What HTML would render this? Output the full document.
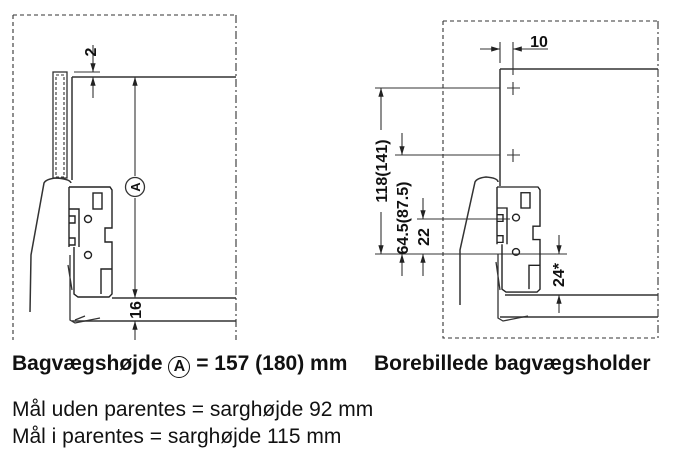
<!DOCTYPE html>
<html><head><meta charset="utf-8"><style>
body{margin:0;background:#fff;width:677px;height:465px;overflow:hidden;font-family:"Liberation Sans",sans-serif}
svg{position:absolute;left:0;top:0}
.t{position:absolute;color:#111;white-space:nowrap;line-height:24px}
</style></head><body>
<svg width="677" height="465" viewBox="0 0 677 465">
<defs>
<marker id="a" viewBox="0 0 10 10" refX="10" refY="5" markerWidth="8" markerHeight="8" orient="auto-start-reverse"><path d="M0,2 L10,5 L0,8 z" fill="#222"/></marker>
<g id="br" fill="none" stroke="#222" stroke-width="1.4">
<path d="M0,0 L41,0 L43,3 L43,41 L36,41 L36,55 L43,55 L43,107 L40,110 L9,110 L5,107 L5,60 M0,0 L0,60"/>
<rect x="24" y="6" width="9" height="16"/>
<circle cx="19" cy="32" r="3.5"/><circle cx="19" cy="68" r="3.5"/>
<path d="M0,22 L10,22 L10,60 M0,29 L6,29 L6,36 L0,36 M0,51 L6,51 L6,58 L0,58"/>
<path d="M32,107 L32,82 L43,82"/>
</g>
</defs>
<g stroke="#333" stroke-width="1.1" fill="none">
<path d="M13,15 L236,15 M13,15 L13,340" stroke-dasharray="4,3"/>
<path d="M236,15 L236,340" stroke-dasharray="8,3,2,3"/>
<rect x="53" y="72" width="14" height="106" stroke-width="1.3"/>
<rect x="56" y="75" width="8" height="102" stroke-dasharray="3,2"/>
<path d="M72,77 L236,77 M72,77 L72,180" stroke-width="1.5"/>
<path d="M74,72 L100,72"/>
<path d="M93,45 L93,72" marker-end="url(#a)"/>
<path d="M93,98 L93,77" marker-end="url(#a)"/>
<path d="M135,176 L135,77" marker-end="url(#a)"/>
<path d="M135,198 L135,298" marker-end="url(#a)"/>
<circle cx="135" cy="187" r="9.5" stroke-width="1.3"/>
<path d="M112,298 L236,298 M72,321 L236,321" stroke-width="1.5"/>
<path d="M135,340 L135,321" marker-end="url(#a)"/>
<path d="M30,312 L31,255 L44,183 Q46,179 56,178 Q70,179 71,183" stroke-width="1.5"/>
<path d="M70,255 L70,320 L75,323 L100,318 M68,265 L72,290 M75,320 L85,316" stroke-width="1.3"/>
<path d="M443,21 L658,21 M443,21 L443,338 L658,338" stroke-dasharray="4,3"/>
<path d="M658,21 L658,338" stroke-dasharray="8,3,2,3"/>
<path d="M500,69 L658,69 M500,69 L500,186" stroke-width="1.5"/>
<path d="M500,42 L500,63 M513,42 L513,75"/>
<path d="M480,49 L500,49" marker-end="url(#a)"/>
<path d="M548,49 L513,49" marker-end="url(#a)"/>
<path d="M507,88 L520,88 M513,82 L513,95 M507,155 L520,155 M513,149 L513,162"/>
<path d="M375,88 L500,88 M395,155 L500,155 M417,219 L510,219 M375,254 L567,254"/>
<path d="M381,130 L381,88" marker-end="url(#a)"/>
<path d="M381,212 L381,254" marker-end="url(#a)"/>
<path d="M402,133 L402,155" marker-end="url(#a)"/>
<path d="M402,276 L402,254" marker-end="url(#a)"/>
<path d="M423,198 L423,219" marker-end="url(#a)"/>
<path d="M423,276 L423,254" marker-end="url(#a)"/>
<path d="M559,235 L559,254" marker-end="url(#a)"/>
<path d="M559,313 L559,295" marker-end="url(#a)"/>
<path d="M505,295 L658,295 M500,317 L658,317" stroke-width="1.5"/>
<path d="M460,305 L460,250 L475,182 Q477,178 486,177 Q498,178 498,182" stroke-width="1.5"/>
<path d="M498,254 L498,318 L503,321 L528,316 M496,262 L500,290" stroke-width="1.3"/>
</g>
<use href="#br" x="69" y="187"/>
<g transform="translate(497,187) scale(1,0.955)"><use href="#br"/></g>
<g font-family="Liberation Sans" font-weight="bold" font-size="16" fill="#111" text-anchor="middle">
<text transform="translate(96,52) rotate(-90)">2</text>
<text transform="translate(140,187) rotate(-90)" font-size="13">A</text>
<text transform="translate(141,310) rotate(-90)">16</text>
<text x="539" y="47">10</text>
<text transform="translate(387,171) rotate(-90)">118(141)</text>
<text transform="translate(408,218) rotate(-90)">64.5(87.5)</text>
<text transform="translate(429,237) rotate(-90)">22</text>
<text transform="translate(564,275) rotate(-90)">24*</text>
</g>
</svg>
<div class="t" style="left:12px;top:352px;font-size:21px;font-weight:bold">Bagvægshøjde <span style="display:inline-block;width:22px;height:22px;border:1.5px solid #111;border-radius:50%;text-align:center;line-height:20px;font-size:16px;box-sizing:border-box;vertical-align:-1px">A</span> = 157 (180) mm</div>
<div class="t" style="left:374px;top:352px;font-size:21px;font-weight:bold">Borebillede bagvægsholder</div>
<div class="t" style="left:12px;top:398px;font-size:21px">Mål uden parentes = sarghøjde 92 mm</div>
<div class="t" style="left:12px;top:425px;font-size:21px">Mål i parentes = sarghøjde 115 mm</div>
</body></html>
